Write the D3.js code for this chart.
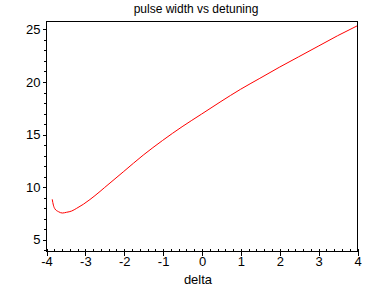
<!DOCTYPE html>
<html>
<head>
<meta charset="utf-8">
<script src="https://cdn.jsdelivr.net/npm/d3@7"></script>
<style>
  body { margin: 0; background: #fff; }
  svg { display: block; font-family: "Liberation Sans", Arial, sans-serif; }
</style>
</head>
<body>
<script>
const title = 'pulse width vs detuning'
const xLabel = 'delta'

// detuning values and pulse width
const delta = [-3.84, -3.81, -3.77, -3.68, -3.58, -3.47, -3.34, -3.21, -3.04, -2.87,
  -2.61, -2.5, -2.0, -1.5, -1.0, -0.5, 0.0, 0.5, 1.0, 1.5, 2.0, 2.5, 3.0, 3.5, 4.0]
const pulseWidth = [8.80, 8.25, 7.89, 7.63, 7.50, 7.57, 7.69, 7.95, 8.33, 8.78,
  9.55, 9.90, 11.45, 13.0, 14.4, 15.7, 16.9, 18.1, 19.25, 20.3, 21.35, 22.35, 23.35, 24.35, 25.28]

const xTicks = [-4, -3, -2, -1, 0, 1, 2, 3, 4]
const yTicks = [5, 10, 15, 20, 25]

const W = 388
const H = 288
const mLeft = 46, mRight = 357, mTop = 21, mBottom = 251

const svg = d3.select('body')
  .append('svg')
  .attr('width', W)
  .attr('height', H)

const x = d3.scaleLinear().domain([-4, 4]).range([mLeft, mRight])
const y = d3.scaleLinear().domain([3.89, 25.75]).range([mBottom, mTop])

const xMinor = d3.range(-4, 4.001, 0.2).map(d => +d.toFixed(1))
const yMinor = d3.range(4, 25.5, 1)

// frame
svg.append('rect')
  .attr('x', mLeft + 0.5)
  .attr('y', mTop + 0.5)
  .attr('width', mRight - mLeft)
  .attr('height', mBottom - mTop)
  .attr('fill', 'none')
  .attr('stroke', '#000')
  .attr('shape-rendering', 'crispEdges')

// y axis
svg.append('g')
  .attr('transform', `translate(${mLeft + 0.5},0.5)`)
  .call(d3.axisLeft(y).tickValues(yMinor).tickSize(3).tickFormat(''))
  .call(g => g.select('.domain').remove())
svg.append('g')
  .attr('transform', `translate(${mLeft + 0.5},0.5)`)
  .call(d3.axisLeft(y).tickValues(yTicks).tickSize(4).tickPadding(2).tickFormat(d3.format('d')))
  .call(g => g.select('.domain').remove())

// x axis
svg.append('g')
  .attr('transform', `translate(0.5,${mBottom + 0.5})`)
  .call(d3.axisTop(x).tickValues(xMinor).tickSize(3).tickFormat(''))
  .call(g => g.select('.domain').remove())
svg.append('g')
  .attr('transform', `translate(0.5,${mBottom + 0.5})`)
  .call(d3.axisBottom(x).tickValues(xTicks).tickSize(4).tickPadding(1).tickFormat(d3.format('d')))
  .call(g => g.select('.domain').remove())

svg.selectAll('.tick line').attr('shape-rendering', 'crispEdges')
svg.selectAll('.tick text')
  .attr('font-size', '13px')
  .attr('font-family', '"Liberation Sans", Arial, sans-serif')
  .attr('fill', '#000')
// d3 uses unicode minus; the original uses a plain hyphen
svg.selectAll('.tick text').text(function () { return d3.select(this).text().replace('\u2212', '-') })

// curve
const pts = delta.map((d, i) => [d, pulseWidth[i]])
svg.append('path')
  .datum(pts)
  .attr('fill', 'none')
  .attr('stroke', '#f00')
  .attr('stroke-width', 1)
  .attr('d', d3.line().x(d => x(d[0])).y(d => y(d[1])).curve(d3.curveMonotoneX))

svg.append('text')
  .attr('x', 196)
  .attr('y', 13)
  .attr('text-anchor', 'middle')
  .attr('font-size', '12px')
  .text(title)

svg.append('text')
  .attr('x', 198)
  .attr('y', 284)
  .attr('text-anchor', 'middle')
  .attr('font-size', '13px')
  .text(xLabel)
</script>
</body>
</html>
